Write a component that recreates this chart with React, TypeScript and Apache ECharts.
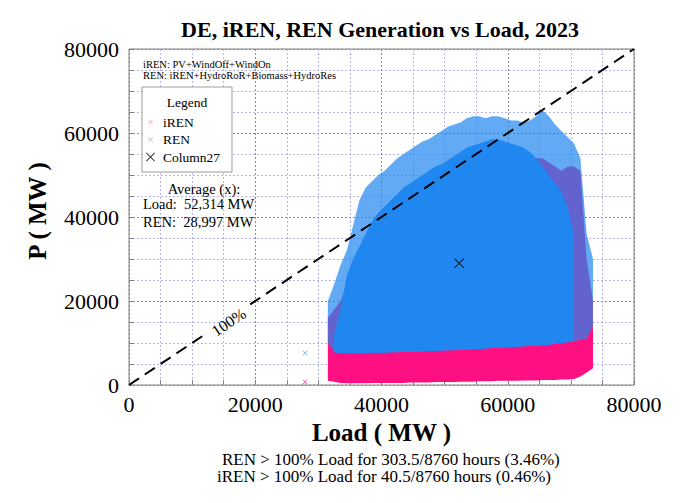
import { useEffect, useRef } from "react"
import * as echarts from "echarts"

const SERIF = "'Liberation Serif', 'Times New Roman', serif"
const PINK = "#ff1082"
const BLUE = "#1f87ef"

// load bins (left edge, MW), each 1000 MW wide
const BIN = 1000
const loadBins = [
  31000, 32000, 33000, 34000, 35000, 36000, 37000, 38000, 39000, 40000, 41000,
  42000, 43000, 44000, 45000, 46000, 47000, 48000, 49000, 50000, 51000, 52000,
  53000, 54000, 55000, 56000, 57000, 58000, 59000, 60000, 61000, 62000, 63000,
  64000, 65000, 66000, 67000, 68000, 69000, 70000, 71000, 72000, 73000,
]

// iREN point cloud, lower / upper edge per bin (MW)
const irenLow = [
  1000, 800, 500, 400, 400, 400, 400, 500, 500, 500, 500, 500, 500, 600, 600,
  600, 600, 700, 700, 700, 700, 800, 800, 800, 900, 900, 900, 1000, 1000, 1000,
  1000, 1100, 1100, 1100, 1200, 1200, 1200, 1300, 1300, 1400, 2000, 3000, 4000,
]
const irenHigh = [
  16000, 18000, 20000, 24000, 27000, 30000, 33000, 36000, 38000, 40000, 41000,
  42000, 43000, 44000, 45000, 46000, 47000, 48000, 49000, 50000, 50000, 51000,
  52000, 52000, 53000, 54000, 54000, 54000, 54000, 54000, 54000, 54000, 54000,
  54000, 54000, 53000, 52000, 51000, 52000, 52000, 51000, 30000, 20000,
]

// REN point cloud, lower edge and sparse upper edge per bin (MW)
const renLow = [
  10000, 7800, 7600, 7600, 7600, 7600, 7600, 7700, 7700, 7700, 7800, 7800,
  7900, 7900, 8000, 8000, 8100, 8100, 8200, 8300, 8300, 8400, 8400, 8500, 8600,
  8700, 8800, 8800, 8900, 9000, 9100, 9200, 9300, 9400, 9500, 9600, 9800,
  10000, 10200, 10400, 10800, 11000, 14000,
]
const renHigh = [
  20000, 24000, 28500, 32000, 38000, 44000, 47000, 48500, 50000, 51000, 52500,
  54000, 55000, 56000, 57000, 58000, 58500, 59500, 60500, 61500, 62000, 62500,
  63500, 64000, 64000, 63500, 64000, 64000, 63500, 63000, 63000, 62500, 63000,
  64000, 65500, 64000, 62000, 60500, 59000, 57500, 54000, 36000, 30000,
]
// REN dense core, upper edge per bin (MW)
const renCoreHigh = [
  null, 12000, 18000, 26000, 30000, 33000, 36000, 39000, 41000, 42500, 44000,
  45500, 47000, 48000, 49000, 50000, 51000, 52000, 52500, 53500, 54500, 55500,
  56500, 57000, 57500, 58000, 58500, 58500, 58000, 57500, 57000, 56500, 55500,
  54000, 52000, 50000, 48000, 46000, 42000, 36000, null, null, null,
]

// single outlying hours [load, P]
const irenOutliers = [[27900, 700]]
const renOutliers = [[27900, 7600]]

const avgLoad = 52314
const avgRen = 28997

// 100 % line (P = Load), drawn in two pieces around its label
const diagonalPieces = [
  [0, 11600],
  [19200, 80000],
]
const diagonalLabelAt = [15800, 15000]

const xTicks = [0, 20000, 40000, 60000, 80000]

const X_ICON =
  "path://M-4,-4M14,14M0,1L1,0L5,4L9,0L10,1L6,5L10,9L9,10L5,6L1,10L0,9L4,5Z"
const X_MARK = "path://M0,1L1,0L5,4L9,0L10,1L6,5L10,9L9,10L5,6L1,10L0,9L4,5Z"
const X_THIN =
  "path://M0,0.7L0.7,0L5,4.3L9.3,0L10,0.7L5.7,5L10,9.3L9.3,10L5,5.7L0.7,10L0,9.3L4.3,5Z"

function envelope(lows: (number | null)[], highs: (number | null)[]) {
  const top: number[][] = []
  const bottom: number[][] = []
  loadBins.forEach((l, i) => {
    const lo = lows[i]
    const hi = highs[i]
    if (lo == null || hi == null) return
    top.push([l + BIN / 2, hi])
    bottom.push([l + BIN / 2, lo])
  })
  return top.concat(bottom.reverse())
}

function cloudSeries(name: string, pts: number[][], fill: string, opacity: number) {
  return {
    type: "custom",
    name,
    silent: true,
    data: [[pts[0][0], pts[0][1]]],
    renderItem: (_p: unknown, api: any) => ({
      type: "polygon",
      shape: { points: pts.map((p) => api.coord(p)) },
      style: { fill, opacity },
    }),
  }
}

function text(
  str: string,
  x: number,
  y: number,
  size: number,
  align = "left",
  bold = false,
  extra: Record<string, unknown> = {},
) {
  return {
    type: "text",
    x,
    y,
    z: 10,
    silent: true,
    ...extra,
    style: {
      text: str,
      fill: "#000",
      font: `${bold ? "bold " : ""}${size}px ${SERIF}`,
      textAlign: align,
      textVerticalAlign: "middle",
    },
  }
}

export default function App() {
  const ref = useRef<HTMLDivElement>(null)

  useEffect(() => {
    if (!ref.current) return
    const chart = echarts.init(ref.current, null, { renderer: "svg" })
    const fmt = (n: number) => n.toLocaleString("en-US")

    const axisCommon = {
      type: "value",
      min: 0,
      max: 80000,
      interval: 5000,
      axisLine: { show: false },
      axisTick: { show: true, inside: true, length: 5, lineStyle: { color: "#808080" } },
      splitLine: {
        show: true,
        lineStyle: {
          color: ["#8a8a8a", "#b4b4f0", "#b4b4f0", "#b4b4f0"],
          type: [2, 2],
          width: 1,
        },
      },
    }
    const tickLabel = {
      fontFamily: SERIF,
      fontSize: 22,
      color: "#000",
      formatter: (v: number) => (xTicks.includes(v) ? String(v) : ""),
    }

    const graphics: any[] = [
      text("DE, iREN, REN Generation vs Load, 2023", 380, 29, 22, "center", true),
      text("P ( MW )", 37.5, 211, 25, "center", true, { rotation: Math.PI / 2 }),
      text("iREN: PV+WindOff+WindOn", 143, 64, 10.5),
      text("REN: iREN+HydroRoR+Biomass+HydroRes", 143, 75, 10.5),
      text("Legend", 187, 102, 13.5, "center"),
      text("Average (x):", 204, 188.5, 14.5, "center"),
      text(`Load:  ${fmt(avgLoad)} MW`, 143, 204, 14.5),
      text(`REN:  ${fmt(avgRen)} MW`, 143, 222, 14.5),
      text("REN > 100% Load for 303.5/8760 hours (3.46%)", 222, 459, 17),
      text("iREN > 100% Load for 40.5/8760 hours (0.46%)", 217, 476.5, 17),
    ]

    chart.setOption({
      animation: false,
      grid: {
        left: 129,
        top: 49,
        right: 46,
        bottom: 118,
        show: true,
        borderColor: "#808080",
        borderWidth: 1,
        outerBoundsMode: "none",
      },
      xAxis: {
        ...axisCommon,
        name: "Load ( MW )",
        nameLocation: "middle",
        nameGap: 34,
        nameTextStyle: { fontFamily: SERIF, fontWeight: "bold", fontSize: 25, color: "#000" },
        axisLabel: { ...tickLabel, margin: 8 },
      },
      yAxis: {
        ...axisCommon,
        axisLabel: { ...tickLabel, margin: 10 },
      },
      legend: {
        orient: "vertical",
        left: 142,
        top: 87,
        padding: [28, 12, 8, 4],
        itemGap: 3.5,
        itemWidth: 9,
        itemHeight: 9,
        backgroundColor: "#fff",
        borderColor: "#9c9c9c",
        borderWidth: 1,
        selectedMode: false,
        textStyle: { fontFamily: SERIF, fontSize: 13.5, color: "#000", padding: [0, 0, 0, 3] },
        data: [
          { name: "iREN", icon: X_ICON, itemStyle: { color: "#f6a3c4" } },
          { name: "REN", icon: X_ICON, itemStyle: { color: "#93c5f4" } },
          { name: "Column27", icon: X_THIN, itemStyle: { color: "#000" } },
        ],
      },
      series: [
        cloudSeries("iREN", envelope(irenLow, irenHigh), PINK, 1),
        {
          type: "scatter",
          name: "iREN",
          silent: true,
          symbol: X_MARK,
          symbolSize: 5,
          itemStyle: { color: PINK },
          data: irenOutliers,
        },
        cloudSeries("REN", envelope(renLow, renHigh), BLUE, 0.7),
        cloudSeries("REN", envelope(renLow, renCoreHigh), BLUE, 1),
        {
          type: "scatter",
          name: "REN",
          silent: true,
          symbol: X_MARK,
          symbolSize: 5,
          itemStyle: { color: "#4a9cf0" },
          data: renOutliers,
        },
        ...diagonalPieces.map(([a, b]) => ({
          type: "line",
          name: "100%",
          silent: true,
          symbol: "none",
          lineStyle: { color: "#000", width: 2, type: [12, 7] },
          data: [
            [a, a],
            [b, b],
          ],
          z: 5,
        })),
        {
          type: "scatter",
          name: "Column27",
          silent: true,
          symbol: X_THIN,
          symbolSize: 10,
          itemStyle: { color: "#000" },
          data: [[avgLoad, avgRen]],
          z: 7,
        },
      ],
      graphic: graphics,
    })

    // label of the 100 % line, placed through the axes' scales
    const [lx, ly] = chart.convertToPixel({ gridIndex: 0 }, diagonalLabelAt) as number[]
    chart.setOption({
      graphic: [
        ...graphics,
        text("100%", lx, ly, 16, "center", false, {
          rotation: (33.6 * Math.PI) / 180,
        }),
      ],
    })

    return () => chart.dispose()
  }, [])

  return (
    <div
      ref={ref}
      style={{ position: "absolute", left: 0, top: 0, width: 680, height: 503, background: "#fff" }}
    />
  )
}
